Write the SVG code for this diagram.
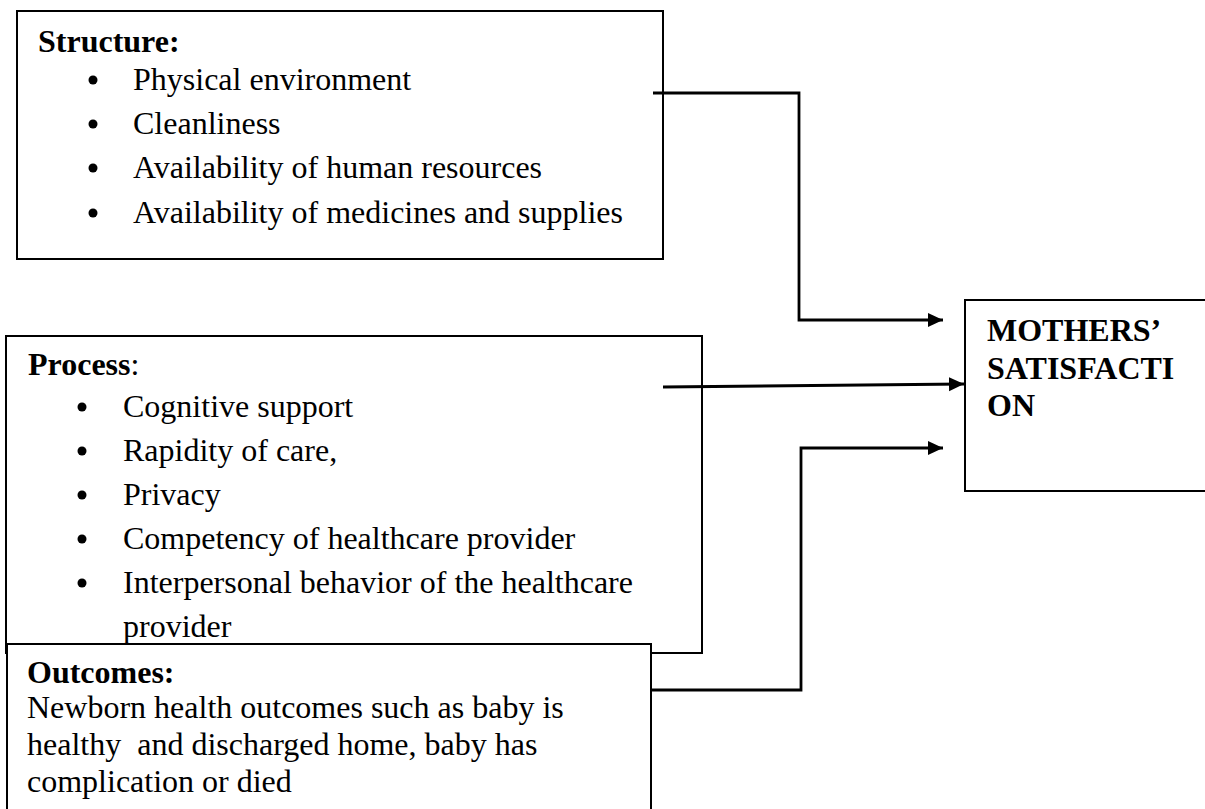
<svg xmlns="http://www.w3.org/2000/svg" width="1205" height="809" viewBox="0 0 1205 809">
<style>
.box{fill:#fff;stroke:#000;stroke-width:2}
.t{font-family:"Liberation Serif","Times New Roman",serif;font-size:32px;fill:#000}
.b{font-weight:bold}
.conn{fill:none;stroke:#000;stroke-width:2.8}
.dot{fill:#000}
</style>
<defs>
<marker id="ah" markerUnits="userSpaceOnUse" markerWidth="16" markerHeight="15" refX="15" refY="7" orient="auto">
<path d="M0,0 L15,7 L0,14 Z" fill="#000"/>
</marker>
</defs>
<rect width="1205" height="809" fill="#fff"/>
<g id="structure">
<rect class="box" x="17" y="11" width="646" height="248"/>
<text class="t b" x="38" y="52">Structure:</text>
<circle class="dot" cx="93" cy="80" r="4.5"/>
<text class="t" x="133" y="90">Physical environment</text>
<circle class="dot" cx="93" cy="124" r="4.5"/>
<text class="t" x="133" y="134">Cleanliness</text>
<circle class="dot" cx="93" cy="168" r="4.5"/>
<text class="t" x="133" y="178">Availability of human resources</text>
<circle class="dot" cx="93" cy="213" r="4.5"/>
<text class="t" x="133" y="223">Availability of medicines and supplies</text>
</g>
<g id="process">
<rect class="box" x="6" y="336" width="696" height="317"/>
<text class="t" x="28" y="375"><tspan class="b">Process</tspan>:</text>
<circle class="dot" cx="82" cy="407" r="4.5"/>
<text class="t" x="123" y="417">Cognitive support</text>
<circle class="dot" cx="82" cy="451" r="4.5"/>
<text class="t" x="123" y="461">Rapidity of care,</text>
<circle class="dot" cx="82" cy="495" r="4.5"/>
<text class="t" x="123" y="505">Privacy</text>
<circle class="dot" cx="82" cy="539" r="4.5"/>
<text class="t" x="123" y="549">Competency of healthcare provider</text>
<circle class="dot" cx="82" cy="583" r="4.5"/>
<text class="t" x="123" y="593">Interpersonal behavior of the healthcare</text>
<text class="t" x="123" y="637">provider</text>
</g>
<g id="outcomes">
<rect class="box" x="7" y="644" width="644" height="180"/>
<text class="t b" x="27" y="683">Outcomes:</text>
<text class="t" x="27" y="718">Newborn health outcomes such as baby is</text>
<text class="t" x="27" y="755" style="white-space:pre">healthy  and discharged home, baby has</text>
<text class="t" x="27" y="792">complication or died</text>
</g>
<g id="mothers">
<rect class="box" x="965" y="300" width="260" height="191"/>
<text class="t b" x="987" y="341">MOTHERS’</text>
<text class="t b" x="987" y="379">SATISFACTI</text>
<text class="t b" x="987" y="416">ON</text>
</g>
<g id="connectors">
<polyline class="conn" points="653,93 799,93 799,320 943,320" marker-end="url(#ah)"/>
<line class="conn" x1="663" y1="387" x2="964" y2="384" marker-end="url(#ah)"/>
<polyline class="conn" points="651,690 801,690 801,448 943,448" marker-end="url(#ah)"/>
</g>
</svg>
